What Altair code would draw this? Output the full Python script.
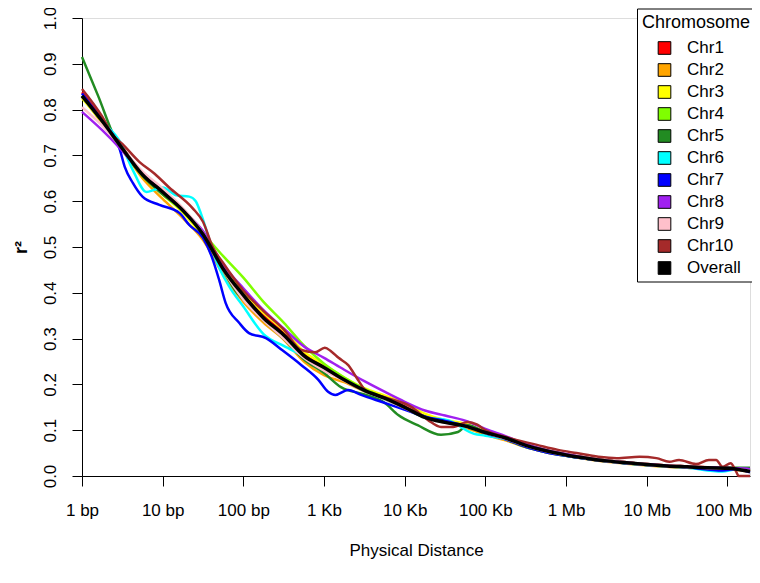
import altair as alt
import pandas as pd

FONT = "Liberation Sans"

SERIES = ["Chr1", "Chr2", "Chr3", "Chr4", "Chr5", "Chr6", "Chr7", "Chr8", "Chr9", "Chr10", "Overall"]
COLORS = ["#FF0000", "#FFA500", "#FFFF00", "#7FFF00", "#228B22", "#00FFFF",
          "#0000FF", "#A020F0", "#FFC0CB", "#A52A2A", "#000000"]

X_TICKS = [0, 1, 2, 3, 4, 5, 6, 7, 8]
X_LABELS = ["1 bp", "10 bp", "100 bp", "1 Kb", "10 Kb", "100 Kb", "1 Mb", "10 Mb", "100 Mb"]
Y_TICKS = [0.0, 0.1, 0.2, 0.3, 0.4, 0.5, 0.6, 0.7, 0.8, 0.9, 1.0]

# log10(distance in bp) grid shared by the smoother series
GRID = [0, 0.25, 0.5, 0.75, 1.0, 1.25, 1.5, 1.75, 2.0, 2.25, 2.5, 2.75, 3.0, 3.25, 3.5,
        3.75, 4.0, 4.25, 4.5, 4.75, 5.0, 5.25, 5.5, 5.75, 6.0, 6.25, 6.5, 6.75, 7.0,
        7.25, 7.5, 7.75, 8.0, 8.25, 8.28]

OVERALL = [0.83, 0.775, 0.715, 0.658, 0.62, 0.58, 0.528, 0.452, 0.395, 0.345, 0.308, 0.263,
           0.237, 0.21, 0.187, 0.17, 0.15, 0.128, 0.117, 0.109, 0.095, 0.083, 0.067, 0.055,
           0.046, 0.039, 0.033, 0.029, 0.025, 0.022, 0.02, 0.018, 0.017, 0.011, 0.01]
CHR1 = [0.838, 0.78, 0.718, 0.66, 0.622, 0.582, 0.53, 0.455, 0.398, 0.35, 0.312, 0.267,
        0.24, 0.212, 0.19, 0.172, 0.152, 0.13, 0.118, 0.11, 0.096, 0.083, 0.068, 0.056,
        0.047, 0.04, 0.034, 0.03, 0.026, 0.023, 0.021, 0.019, 0.017, 0.012, 0.011]
CHR2 = [0.828, 0.77, 0.712, 0.65, 0.605, 0.563, 0.515, 0.44, 0.38, 0.335, 0.298, 0.25,
        0.22, 0.205, 0.185, 0.168, 0.148, 0.13, 0.118, 0.106, 0.09, 0.078, 0.063, 0.052,
        0.044, 0.037, 0.031, 0.027, 0.023, 0.02, 0.018, 0.016, 0.015, 0.01, 0.009]
CHR3 = [0.825, 0.772, 0.713, 0.655, 0.615, 0.575, 0.522, 0.455, 0.402, 0.356, 0.318, 0.272,
        0.243, 0.215, 0.192, 0.176, 0.16, 0.136, 0.122, 0.114, 0.098, 0.084, 0.068, 0.056,
        0.047, 0.04, 0.034, 0.03, 0.026, 0.023, 0.021, 0.019, 0.018, 0.012, 0.011]
CHR4 = [0.83, 0.775, 0.715, 0.66, 0.615, 0.578, 0.53, 0.48, 0.433, 0.38, 0.335, 0.285,
        0.245, 0.215, 0.19, 0.171, 0.15, 0.13, 0.118, 0.108, 0.094, 0.082, 0.067, 0.055,
        0.046, 0.039, 0.033, 0.028, 0.024, 0.021, 0.019, 0.018, 0.018, 0.016, 0.016]
CHR8 = [0.795, 0.755, 0.71, 0.66, 0.62, 0.58, 0.535, 0.46, 0.41, 0.362, 0.322, 0.283,
        0.258, 0.232, 0.207, 0.184, 0.162, 0.143, 0.132, 0.121, 0.103, 0.087, 0.07, 0.057,
        0.048, 0.04, 0.034, 0.03, 0.026, 0.023, 0.021, 0.019, 0.018, 0.016, 0.015]
CHR9 = [0.805, 0.765, 0.715, 0.665, 0.628, 0.585, 0.53, 0.45, 0.385, 0.34, 0.3, 0.258,
        0.23, 0.208, 0.186, 0.168, 0.148, 0.128, 0.116, 0.108, 0.094, 0.081, 0.066, 0.054,
        0.045, 0.038, 0.032, 0.028, 0.024, 0.021, 0.019, 0.017, 0.016, 0.012, 0.011]

CHR5_X = [0, 0.2, 0.43, 0.5, 0.75, 1.0, 1.25, 1.5, 1.75, 1.9, 2.0, 2.25, 2.5, 2.75, 3.0,
          3.21, 3.5, 3.75, 3.92, 4.16, 4.45, 4.66, 4.78, 5.0, 5.25, 5.5, 5.75, 6.0, 6.5,
          7.0, 7.5, 8.0, 8.28]
CHR5_Y = [0.915, 0.83, 0.73, 0.712, 0.655, 0.615, 0.58, 0.527, 0.45, 0.405, 0.385, 0.34,
          0.3, 0.255, 0.225, 0.194, 0.178, 0.16, 0.133, 0.111, 0.09, 0.096, 0.111, 0.095,
          0.08, 0.063, 0.052, 0.044, 0.032, 0.024, 0.02, 0.018, 0.018]

CHR6_X = [0, 0.25, 0.47, 0.63, 0.8, 0.9, 1.0, 1.17, 1.33, 1.41, 1.47, 1.58, 1.66, 1.82,
          2.0, 2.25, 2.5, 2.75, 3.0, 3.25, 3.5, 3.75, 4.0, 4.25, 4.53, 4.86, 5.0, 5.25,
          5.5, 5.75, 6.0, 6.5, 7.0, 7.5, 7.94, 8.1, 8.28]
CHR6_Y = [0.83, 0.775, 0.73, 0.668, 0.62, 0.625, 0.63, 0.613, 0.61, 0.6, 0.575, 0.515,
          0.472, 0.415, 0.37, 0.31, 0.284, 0.262, 0.235, 0.21, 0.186, 0.168, 0.148, 0.128,
          0.122, 0.092, 0.088, 0.08, 0.065, 0.053, 0.044, 0.032, 0.024, 0.018, 0.01,
          0.014, 0.012]

CHR7_X = [0, 0.25, 0.47, 0.53, 0.63, 0.75, 0.96, 1.21, 1.33, 1.5, 1.61, 1.7, 1.78, 1.95,
          2.07, 2.28, 2.48, 2.72, 2.93, 3.05, 3.14, 3.3, 3.46, 3.71, 3.95, 4.25, 4.5, 4.75,
          5.0, 5.25, 5.5, 5.75, 6.0, 6.5, 7.0, 7.5, 7.94, 8.1, 8.28]
CHR7_Y = [0.835, 0.775, 0.712, 0.675, 0.64, 0.61, 0.592, 0.574, 0.548, 0.52, 0.478, 0.428,
          0.378, 0.334, 0.312, 0.301, 0.275, 0.242, 0.21, 0.184, 0.177, 0.188, 0.177, 0.162,
          0.148, 0.13, 0.12, 0.11, 0.094, 0.08, 0.064, 0.052, 0.044, 0.032, 0.024, 0.019,
          0.012, 0.015, 0.008]

CHR10_X = [0, 0.25, 0.38, 0.5, 0.71, 0.9, 1.08, 1.37, 1.5, 1.62, 1.75, 2.0, 2.25, 2.5,
           2.72, 2.89, 3.01, 3.09, 3.18, 3.3, 3.42, 3.51, 3.75, 4.08, 4.29, 4.45, 4.6,
           4.78, 4.9, 5.0, 5.25, 5.64, 5.9, 6.13, 6.4, 6.63, 6.91, 7.12, 7.28, 7.4, 7.61,
           7.77, 7.86, 7.94, 8.04, 8.1, 8.14, 8.28]
CHR10_Y = [0.845, 0.785, 0.745, 0.725, 0.686, 0.66, 0.63, 0.585, 0.555, 0.5, 0.465, 0.405,
           0.36, 0.32, 0.275, 0.27, 0.28, 0.272, 0.258, 0.242, 0.21, 0.188, 0.172, 0.151,
           0.122, 0.107, 0.107, 0.118, 0.112, 0.1, 0.085, 0.068, 0.057, 0.05, 0.042, 0.039,
           0.042, 0.039, 0.031, 0.035, 0.026, 0.035, 0.035, 0.02, 0.028, 0.013, 0.0, 0.0]

series_data = [
    ("Chr1", GRID, CHR1), ("Chr2", GRID, CHR2), ("Chr3", GRID, CHR3), ("Chr4", GRID, CHR4),
    ("Chr5", CHR5_X, CHR5_Y), ("Chr6", CHR6_X, CHR6_Y), ("Chr7", CHR7_X, CHR7_Y),
    ("Chr8", GRID, CHR8), ("Chr9", GRID, CHR9), ("Chr10", CHR10_X, CHR10_Y),
]
color_of = dict(zip(SERIES, COLORS))

rows = []
for i, (name, xs, ys) in enumerate(series_data):
    for x, y in zip(xs, ys):
        rows.append({"series": name, "idx": i, "hex": color_of[name], "logd": x, "r2": y})
df_chr = pd.DataFrame(rows)
df_all = pd.DataFrame({"series": "Overall", "logd": GRID, "r2": OVERALL})
# legend keys only (placed far outside the plotted region)
df_leg = pd.DataFrame({"series": SERIES, "logd": [-20.0] * len(SERIES), "r2": [-5.0] * len(SERIES)})

label_expr = "".join(
    f"datum.value == {v} ? '{lab}' : " for v, lab in zip(X_TICKS, X_LABELS)
) + "''"

x_scale = alt.Scale(domain=[0, 8.28], nice=False, zero=False)
y_scale = alt.Scale(domain=[0, 1], nice=False, zero=False)

x_axis = alt.Axis(values=X_TICKS, labelExpr=label_expr, grid=False, tickSize=10,
                  labelPadding=16, labelFontSize=17, labelFont=FONT, labelColor="black",
                  labelOffset={"condition": {"test": "datum.value == 8", "value": -4}, "value": 0},
                  title="Physical Distance", titleFontSize=17, titleFont=FONT,
                  titleFontWeight="normal", titleColor="black", titlePadding=24,
                  domainColor="black", tickColor="black", labelFlush=False,
                  labelOverlap=False)
y_axis = alt.Axis(values=Y_TICKS, format=".1f", grid=False, tickSize=10, labelAngle=270,
                  labelAlign="center", labelBaseline="bottom", labelPadding=13,
                  labelFontSize=17, labelFont=FONT, labelColor="black",
                  title="r²", titleFontSize=18, titleFont=FONT, titleFontWeight="bold",
                  titleColor="black", titlePadding=11, domainColor="black",
                  tickColor="black", labelFlush=False, labelOverlap=False)

X = alt.X("logd:Q", scale=x_scale, axis=x_axis)
Y = alt.Y("r2:Q", scale=y_scale, axis=y_axis)

lines = alt.Chart(df_chr).mark_line(strokeWidth=2.5, interpolate="monotone").encode(
    x=X, y=Y,
    stroke=alt.Stroke("hex:N", scale=None),
    detail="idx:O",
)

overall = alt.Chart(df_all).mark_line(strokeWidth=3.5, color="black", interpolate="monotone").encode(
    x=X, y=Y
)

legend_layer = alt.Chart(df_leg).mark_square(stroke="black", strokeWidth=1, opacity=1).encode(
    x=X, y=Y,
    fill=alt.Fill("series:N", scale=alt.Scale(domain=SERIES, range=COLORS),
                  legend=alt.Legend(title="Chromosome", orient="none", legendX=555, legendY=-9.5,
                                    direction="vertical", symbolType="square", symbolSize=160,
                                    symbolStrokeColor="black", symbolStrokeWidth=1,
                                    symbolOpacity=1, symbolOffset=14, labelOffset=14,
                                    labelFontSize=17, labelFont=FONT, labelColor="black",
                                    titleFontSize=18, titleFont=FONT, titleFontWeight="normal",
                                    titleColor="black", fillColor="white", strokeColor="black",
                                    padding=5, rowPadding=4, titlePadding=8)),
)

chart = alt.layer(lines, overall, legend_layer).properties(
    width=668, height=458,
    autosize=alt.AutoSizeParams(type="none"),
    padding={"left": 74, "top": 10, "right": 2, "bottom": 88},
).configure_view(stroke=None).configure(background="white")

chart.save("out.html", embed_options={"renderer": "svg", "actions": False})
